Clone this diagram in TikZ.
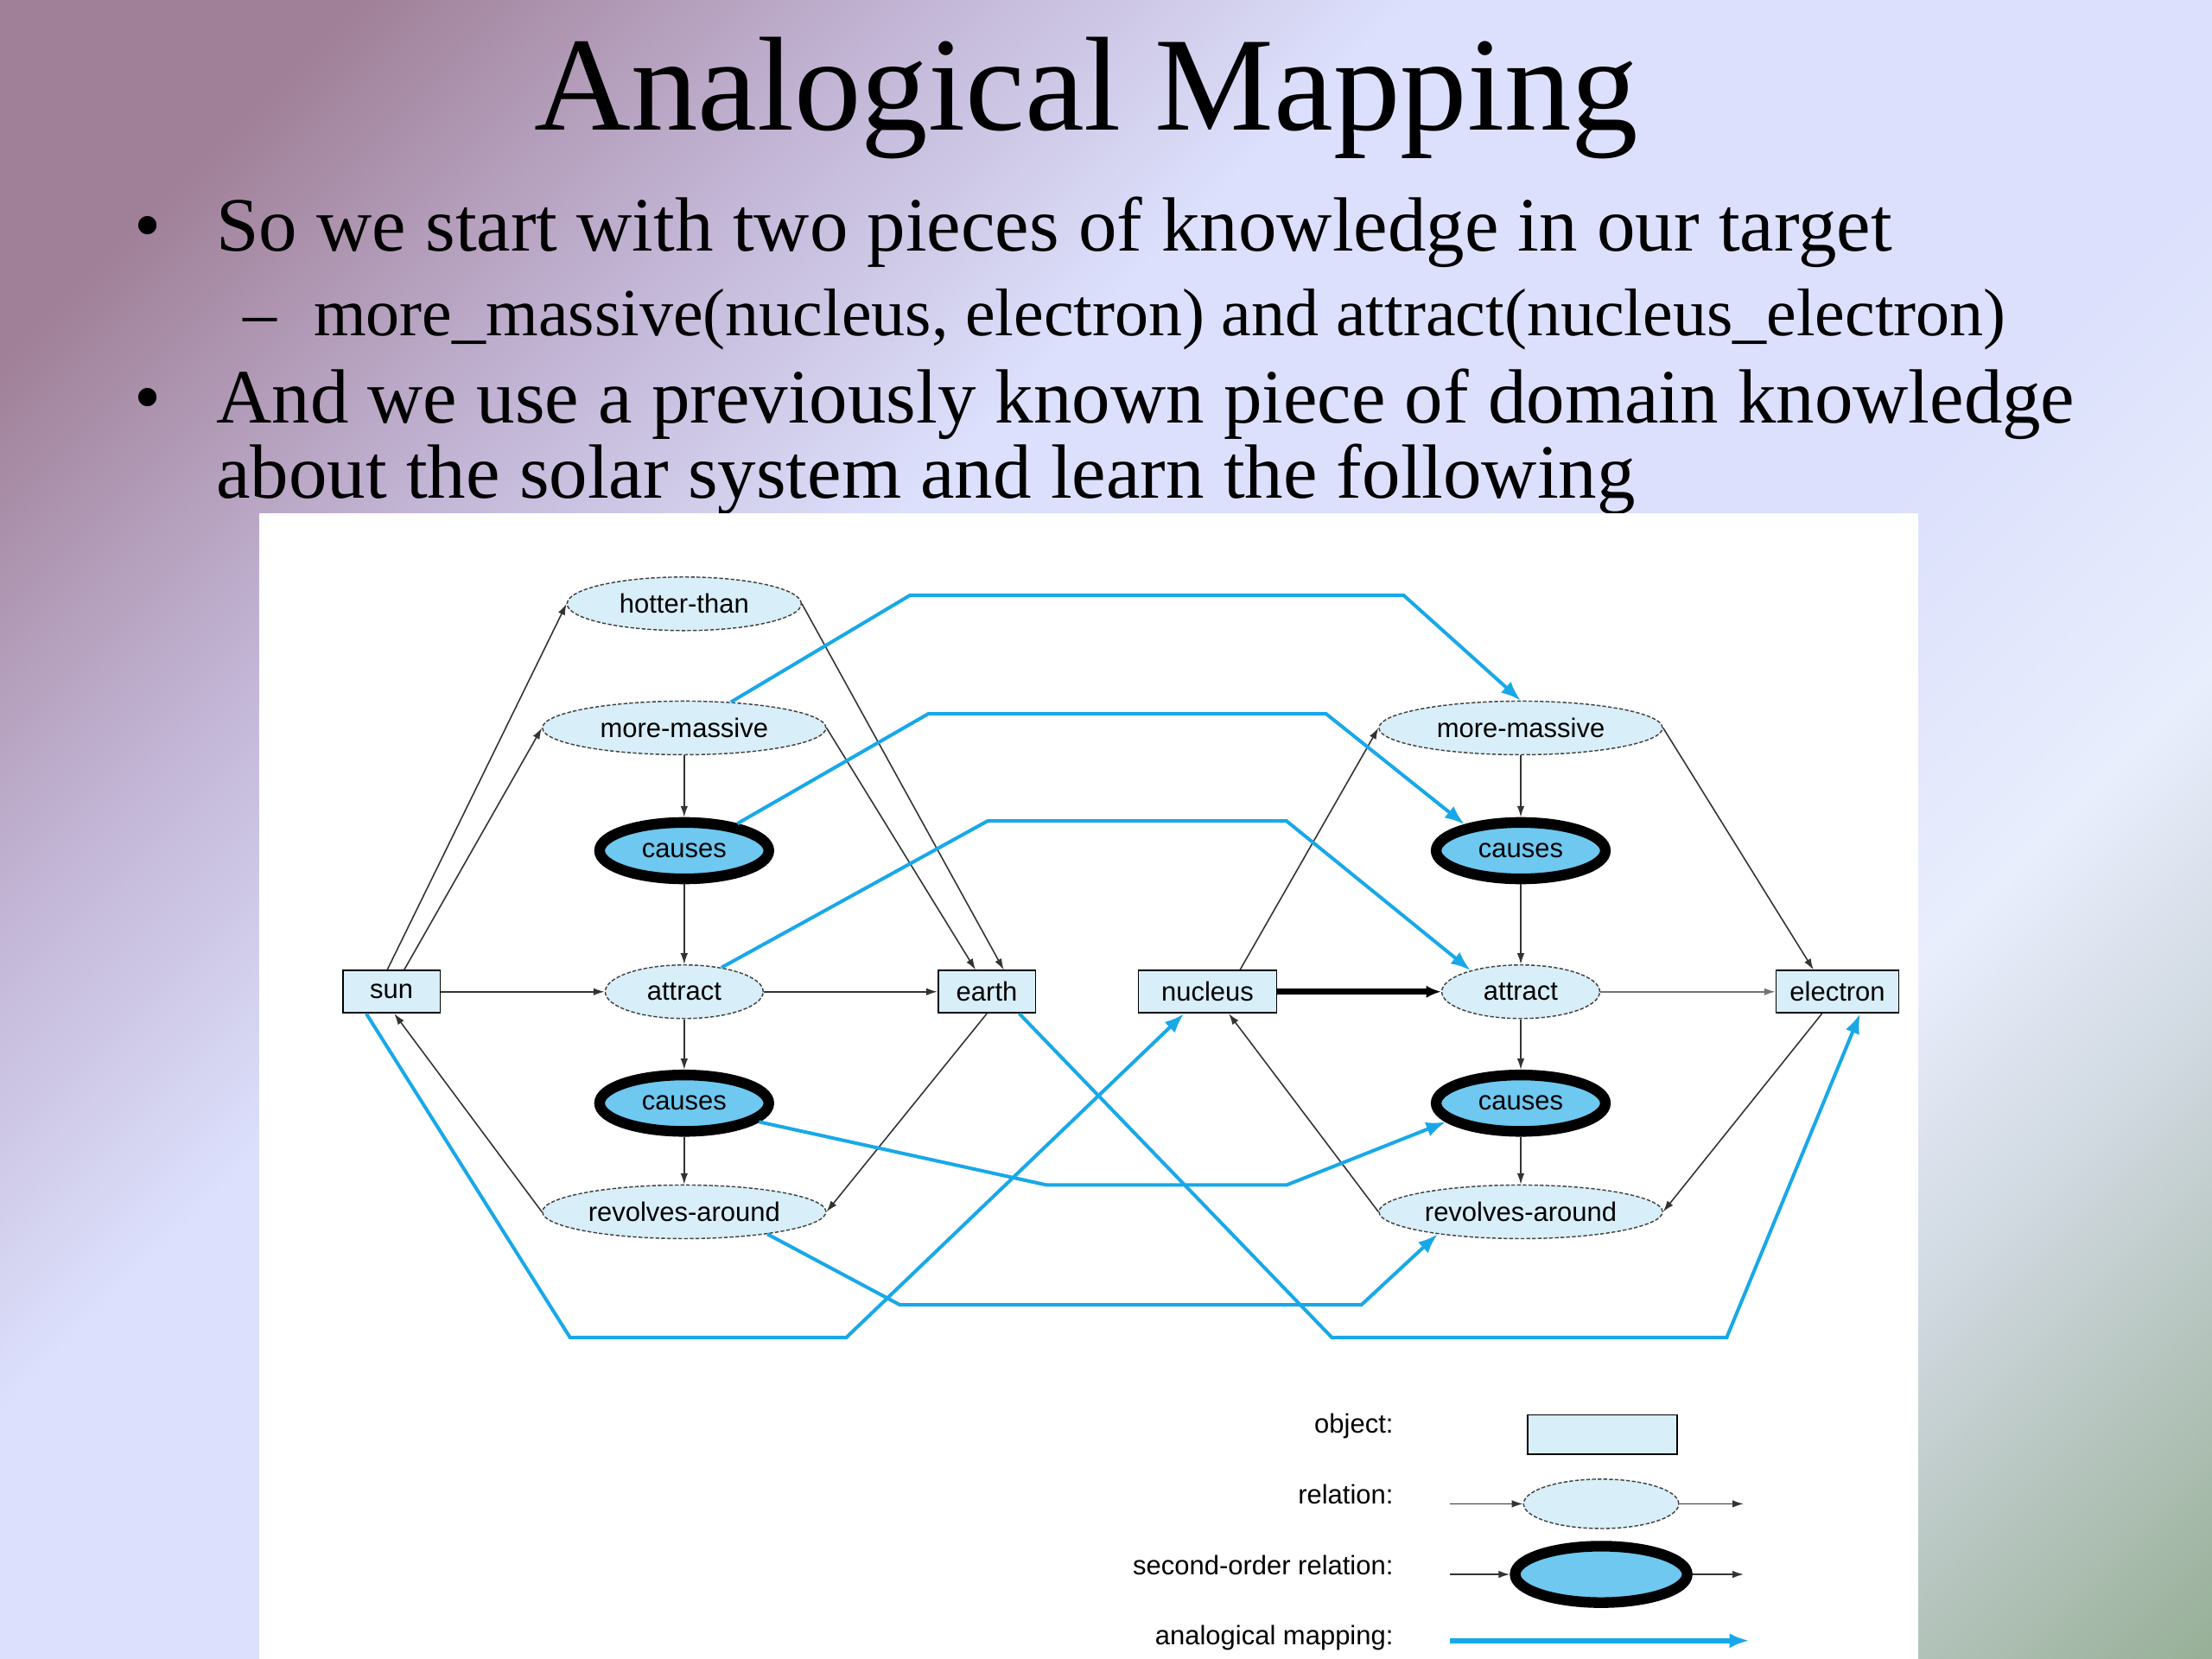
\documentclass[tikz,border=0pt]{standalone}
\usepackage{fontspec}
\setmainfont{Liberation Serif}
\newfontfamily\diagsans{Liberation Sans}
\usetikzlibrary{shapes.geometric,arrows.meta,calc}

\definecolor{bgmauve}{HTML}{A08098}
\definecolor{bgmid}{HTML}{C2B4D4}
\definecolor{bglav}{HTML}{DCE0FC}
\definecolor{bglight}{HTML}{E8EEFC}
\definecolor{bggrey}{HTML}{D0D8E0}
\definecolor{bggreen}{HTML}{98B098}
\definecolor{objfill}{HTML}{D8EEF8}
\definecolor{causefill}{HTML}{6EC8F0}
\definecolor{mapblue}{HTML}{18A8E8}

\pgfdeclarehorizontalshading{slidebg}{100bp}{color(0bp)=(bgmauve); color(24.7bp)=(bgmauve); color(33.5bp)=(bgmid); color(41.6bp)=(bglav); color(57.4bp)=(bglav); color(65.3bp)=(bglight); color(70.9bp)=(bggrey); color(80.9bp)=(bggreen); color(100bp)=(bggreen)}

\begin{document}
\begin{tikzpicture}[x=0.02cm, y=-0.02cm,
  obj/.style={rectangle, draw, line width=0.6pt, fill=objfill, inner sep=0pt, minimum height=0.6cm, font=\diagsans\fontsize{10.8}{13}\selectfont},
  rel/.style={ellipse, draw=black!75, dash pattern=on 1.5pt off 0.8pt, line width=0.5pt, fill=objfill, inner sep=0pt, minimum height=0.76cm, font=\diagsans\fontsize{10.8}{13}\selectfont},
  sorel/.style={ellipse, draw=black, line width=4.3pt, fill=causefill, inner sep=0pt, minimum width=2.4cm, minimum height=0.8cm, font=\diagsans\fontsize{10.8}{13}\selectfont},
  link/.style={draw=black!80, line width=0.55pt, -{Latex[length=4.5pt,width=3pt]}},
  mapping/.style={draw=mapblue, line width=1.4pt, -{Latex[length=8pt,width=6pt]}},
  lbl/.style={anchor=base east, inner sep=0pt, font=\diagsans\fontsize{10.8}{13}\selectfont},
  slide/.style={anchor=base west, inner sep=0pt}]
  \useasboundingbox (0,0) rectangle (1568,1176);
  \begin{scope}
    \clip (0,0) rectangle (1568,1176);
    \shade[shading=slidebg, shading angle=-45] (0,-196) rectangle (1568,1372);
  \end{scope}

  \node[anchor=base, inner sep=0pt, font=\fontsize{54}{60}\selectfont] (title) at (770,92) {Analogical Mapping};
  \node[slide, font=\fontsize{31}{36}\selectfont] (dot1) at (95,178) {\textbullet};
  \node[slide, font=\fontsize{31}{36}\selectfont] (line1) at (153,178) {So we start with two pieces of knowledge in our target};
  \node[slide, font=\fontsize{27.2}{32}\selectfont] (dash1) at (172,238) {--};
  \node[slide, font=\fontsize{27.2}{32}\selectfont] (line2) at (222,238) {more\_massive(nucleus, electron) and attract(nucleus\_electron)};
  \node[slide, font=\fontsize{31}{36}\selectfont] (dot2) at (95,300) {\textbullet};
  \node[slide, font=\fontsize{31}{36}\selectfont] (line3) at (153,300) {And we use a previously known piece of domain knowledge};
  \node[slide, font=\fontsize{31}{36}\selectfont] (line4) at (153,353) {about the solar system and learn the following};

  \fill[white] (184,364) rectangle (1360,1176);

  \node[rel, minimum width=3.32cm] (hot) at (485,428) {hotter-than};
  \node[rel, minimum width=4.02cm] (mmL) at (485,516) {more-massive};
  \node[sorel] (cauL1) at (485,603) {causes};
  \node[rel, minimum width=2.24cm] (attL) at (485,703) {attract};
  \node[sorel] (cauL2) at (485,782) {causes};
  \node[rel, minimum width=4.02cm] (revL) at (485,859) {revolves-around};
  \node[obj, minimum width=1.38cm] (sun) at (277.5,703) {sun};
  \node[obj, minimum width=1.38cm] (earth) at (699.5,703) {earth};

  \node[rel, minimum width=4.02cm] (mmR) at (1078,516) {more-massive};
  \node[sorel] (cauR1) at (1078,603) {causes};
  \node[rel, minimum width=2.24cm] (attR) at (1078,703) {attract};
  \node[sorel] (cauR2) at (1078,782) {causes};
  \node[rel, minimum width=4.02cm] (revR) at (1078,859) {revolves-around};
  \node[obj, minimum width=1.96cm] (nuc) at (856,703) {nucleus};
  \node[obj, minimum width=1.74cm] (elec) at (1302.5,703) {electron};

  \draw[link] ($(sun.north)+(-3,0)$) -- (hot.west);
  \draw[link] ($(sun.north)+(9,0)$) -- (mmL.west);
  \draw[link] (hot.east) -- ($(earth.north)+(12,0)$);
  \draw[link] (mmL.east) -- ($(earth.north)+(-8,0)$);
  \draw[link] (sun) -- (attL);
  \draw[link] (attL) -- (earth);
  \draw[link] (revL.west) -- ($(sun.south)+(2,0)$);
  \draw[link] (earth.south) -- (revL.east);
  \foreach \a/\b in {mmL/cauL1, cauL1/attL, attL/cauL2, cauL2/revL, mmR/cauR1, cauR1/attR, attR/cauR2, cauR2/revR}
    \draw[link] (\a) -- (\b);
  \draw[link] ($(nuc.north)+(23,0)$) -- (mmR.west);
  \draw[link] (mmR.east) -- ($(elec.north)+(-17,0)$);
  \draw[link, draw=black, line width=2.3pt, -{Latex[length=6pt,width=5pt]}] (nuc) -- (attR);
  \draw[link, draw=black!55] (attR) -- (elec);
  \draw[link] (revR.west) -- ($(nuc.south)+(15,0)$);
  \draw[link] ($(elec.south)+(-11,0)$) -- (revR.east);

  \draw[mapping] (mmL.29) -- (645,422) -- (995,422) -- (mmR.north);
  \draw[mapping] (cauL1.27) -- (658,506) -- (940,506) -- (cauR1.155);
  \draw[mapping] (attL.33) -- (700,582) -- (912,582) -- (attR.157);
  \draw[mapping] (cauL2.346) -- (742,840) -- (912,840) -- (cauR2.194);
  \draw[mapping] (revL.345) -- (638,925) -- (965,925) -- (revR.195);
  \draw[mapping] (sun.221) -- (404,948) -- (600,948) -- (nuc.223);
  \draw[mapping] (earth.326) -- (944,948) -- (1224,948) -- (elec.316);

  \node[lbl] (objlbl) at (988,1016) {object:};
  \node[lbl] (rellbl) at (988,1066) {relation:};
  \node[lbl] (solbl) at (988,1116) {second-order relation:};
  \node[lbl] (maplbl) at (988,1166) {analogical mapping:};
  \node[obj, minimum width=2.12cm, minimum height=0.56cm] (legObj) at (1136,1017) {};
  \node[rel, minimum width=2.2cm, minimum height=0.7cm] (legRel) at (1135,1066) {};
  \node[sorel, minimum width=2.44cm] (legSo) at (1135,1116) {};
  \coordinate (relIn) at (1028,1066);
  \coordinate (relOut) at (1236,1066);
  \coordinate (soIn) at (1028,1116);
  \coordinate (soOut) at (1236,1116);
  \coordinate (mapIn) at (1028,1163);
  \coordinate (mapOut) at (1240,1163);
  \draw[link] (relIn) -- (legRel);
  \draw[link] (legRel) -- (relOut);
  \draw[link] (soIn) -- (legSo);
  \draw[link] (legSo) -- (soOut);
  \draw[mapping, line width=2.3pt] (mapIn) -- (mapOut);
\end{tikzpicture}
\end{document}
